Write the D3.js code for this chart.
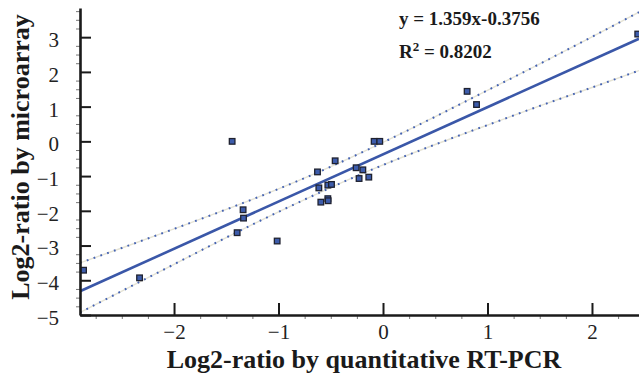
<!DOCTYPE html>
<html>
<head>
<meta charset="utf-8">
<script src="https://cdn.jsdelivr.net/npm/d3@7"></script>
<style>
body { margin: 0; background: #fff; }
svg { display: block; }
.tick text { font-family: "Liberation Serif", "Times New Roman", serif; font-size: 21px; fill: #222; }
.title { font-family: "Liberation Serif", "Times New Roman", serif; font-weight: bold; fill: #1a1a1a; }
</style>
</head>
<body>
<div id="chart"></div>
<script>
// values
const pcrValues   = [-2.866, -2.33, -1.444, -1.339, -1.335, -1.396, -1.013, -0.627, -0.614, -0.595, -0.458, -0.528,
                     -0.493, -0.528, -0.525, -0.257, -0.193, -0.229, -0.136, -0.085, -0.031, 0.805, 0.895, 2.438];
const arrayValues = [-3.71, -3.93, 0.0, -1.97, -2.21, -2.63, -2.87, -0.88, -1.34, -1.75, -0.56, -1.26,
                     -1.24, -1.65, -1.71, -0.76, -0.82, -1.07, -1.03, 0.0, 0.0, 1.44, 1.06, 3.09];

// confidence band, read at a few x positions
const bandX     = [-2.9, -2.5, -2, -1.5, -1, -0.5, 0, 0.5, 1, 1.5, 2, 2.45];
const bandUpper = [-3.50, -3.07, -2.52, -1.96, -1.37, -0.73, -0.03, 0.71, 1.47, 2.23, 3.01, 3.72];
const bandLower = [-4.93, -4.31, -3.54, -2.77, -2.03, -1.33, -0.68, -0.09, 0.47, 1.02, 1.55, 2.04];

const fitSlope = 1.359, fitIntercept = -0.3756;
const equationText = "y = 1.359x-0.3756";
const rSquaredText = " = 0.8202";

const xTickValues = [-2, -1, 0, 1, 2];
const yTickValues = [3, 2, 1, 0, -1, -2, -3, -4, -5];
const xLabel = "Log2-ratio by quantitative RT-PCR";
const yLabel = "Log2-ratio by microarray";

const width = 639, height = 377;
const plot = { l: 80, r: 639, t: 8, b: 315 };

const blue = "#3a57a8";
const minus = (v) => v < 0 ? "\u2212" + Math.abs(v) : String(v);

const svg = d3.select("#chart").append("svg")
    .attr("width", width)
    .attr("height", height);

const x = d3.scaleLinear().domain([-2.9, 2.45]).range([plot.l, plot.r]);
const y = d3.scaleLinear().domain([-5, 3.84]).range([plot.b, plot.t]);

svg.append("clipPath").attr("id", "clip")
  .append("rect")
    .attr("x", plot.l).attr("y", plot.t)
    .attr("width", plot.r - plot.l).attr("height", plot.b - plot.t);

const g = svg.append("g").attr("clip-path", "url(#clip)");

// dotted confidence lines
const bandLine = (vals) => d3.line()
    .x((d, i) => x(bandX[i]))
    .y((d) => y(d))
    .curve(d3.curveMonotoneX)(vals);

[bandUpper, bandLower].forEach((vals) => {
  g.append("path")
      .attr("d", bandLine(vals))
      .attr("fill", "none")
      .attr("stroke", "#e6e4d6")
      .attr("stroke-width", 1.4);
  g.append("path")
      .attr("d", bandLine(vals))
      .attr("fill", "none")
      .attr("stroke", "#4563b3")
      .attr("stroke-width", 2)
      .attr("stroke-dasharray", "1.8 5.4");
});

// regression line
const xd = x.domain();
g.append("line")
    .attr("x1", x(xd[0])).attr("y1", y(fitSlope * xd[0] + fitIntercept))
    .attr("x2", x(xd[1])).attr("y2", y(fitSlope * xd[1] + fitIntercept))
    .attr("stroke", blue)
    .attr("stroke-width", 2.6);

// points
const pts = pcrValues.map((v, i) => ({ px: v, py: arrayValues[i] }));
const s = 5.6;
g.selectAll(".pt")
  .data(pts)
  .enter().append("rect")
    .attr("class", "pt")
    .attr("x", (d) => x(d.px) - s / 2)
    .attr("y", (d) => y(d.py) - s / 2)
    .attr("width", s)
    .attr("height", s)
    .attr("fill", "#3d5cab")
    .attr("stroke", "#1f2230")
    .attr("stroke-width", 1.3);

// minor ticks, quarter steps, outside the plot
const xMinor = d3.range(-2.75, 2.3, 0.25).filter((v) => Math.abs(v - Math.round(v)) > 0.01);
const yMinor = d3.range(-4.75, 3.8, 0.25).filter((v) => Math.abs(v - Math.round(v)) > 0.01);

svg.append("g")
    .attr("transform", `translate(0,${plot.b})`)
    .call(d3.axisBottom(x).tickValues(xMinor).tickSize(4).tickFormat(""))
    .call((a) => a.select(".domain").remove())
    .call((a) => a.selectAll("line").attr("stroke", "#777").attr("stroke-width", 1));

svg.append("g")
    .attr("transform", `translate(${plot.l},0)`)
    .call(d3.axisLeft(y).tickValues(yMinor).tickSize(4).tickFormat(""))
    .call((a) => a.select(".domain").remove())
    .call((a) => a.selectAll("line").attr("stroke", "#777").attr("stroke-width", 1));

// major axes, ticks pointing inward
const xAxis = svg.append("g")
    .attr("transform", `translate(0,${plot.b})`)
    .call(d3.axisBottom(x).tickValues(xTickValues).tickSizeInner(-12).tickSizeOuter(0).tickPadding(22).tickFormat(minus));
xAxis.select(".domain").attr("stroke", "#1a1a1a").attr("stroke-width", 2.6);
xAxis.selectAll(".tick line").attr("stroke", "#1a1a1a").attr("stroke-width", 2);
xAxis.selectAll(".tick text").attr("dy", "0.1em");

const yAxis = svg.append("g")
    .attr("transform", `translate(${plot.l},0)`)
    .call(d3.axisLeft(y).tickValues(yTickValues).tickSizeInner(-11).tickSizeOuter(0).tickPadding(21).tickFormat(minus));
yAxis.select(".domain").attr("stroke", "#1a1a1a").attr("stroke-width", 2.6);
yAxis.selectAll(".tick line").attr("stroke", "#1a1a1a").attr("stroke-width", 2);
yAxis.selectAll(".tick text").attr("dy", "0.45em");

// axis titles
svg.append("text")
    .attr("class", "title")
    .attr("x", 364)
    .attr("y", 368)
    .attr("text-anchor", "middle")
    .style("font-size", "26px")
    .text(xLabel);

svg.append("text")
    .attr("class", "title")
    .attr("transform", "translate(29,157) rotate(-90)")
    .attr("text-anchor", "middle")
    .style("font-size", "26px")
    .text(yLabel);

// fit annotation
svg.append("text")
    .attr("class", "title")
    .attr("x", 399)
    .attr("y", 25)
    .style("font-size", "19px")
    .text(equationText);

const r2 = svg.append("text")
    .attr("class", "title")
    .attr("x", 399)
    .attr("y", 58)
    .style("font-size", "19px");
r2.append("tspan").text("R");
r2.append("tspan").attr("dy", -7).style("font-size", "13px").text("2");
r2.append("tspan").attr("dy", 7).text(rSquaredText);
</script>
</body>
</html>
